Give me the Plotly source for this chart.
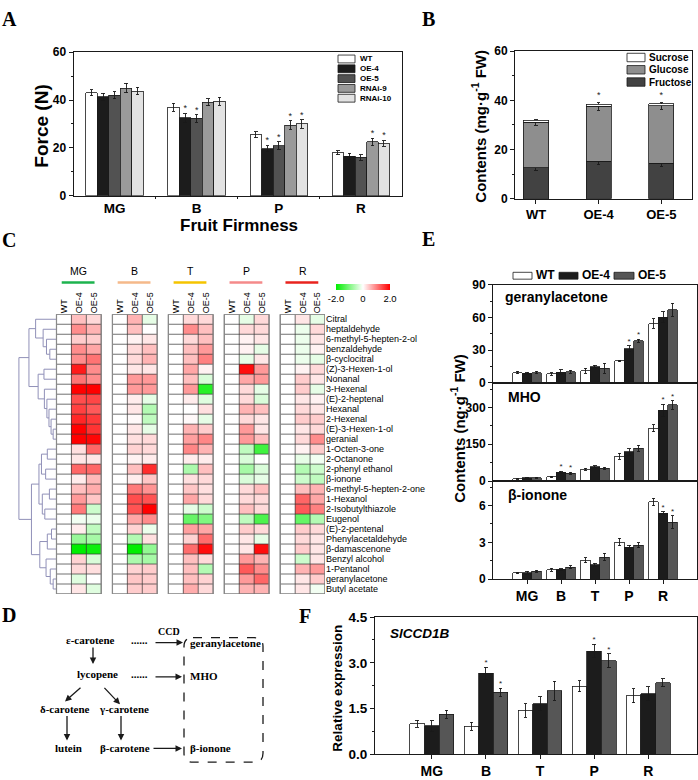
import plotly.graph_objects as go

W, H = 698, 780
def PX(px): return px / W
def PY(py): return 1 - py / H

FONT = 'Liberation Sans'
SERIF = 'Liberation Serif'
INK = '#1a1a1a'

# ================= DATA =================
# --- Panel A: fruit firmness (N)
firm_stages = ['MG', 'B', 'P', 'R']
firm_lines = ['WT', 'OE-4', 'OE-5', 'RNAi-9', 'RNAi-10']
firm_colors = ['#ffffff', '#1c1c1c', '#525252', '#9a9a9a', '#e2e2e2']
force_WT = [43.0, 37.0, 25.5, 18.0]
force_OE4 = [41.3, 32.5, 19.7, 16.5]
force_OE5 = [42.0, 32.3, 21.0, 16.0]
force_RNAi9 = [45.0, 39.0, 29.5, 22.5]
force_RNAi10 = [43.7, 39.5, 30.0, 21.8]
force_err_WT = [1.3, 1.6, 1.2, 0.8]
force_err_OE4 = [1.5, 1.8, 1.3, 1.3]
force_err_OE5 = [1.5, 1.5, 1.5, 1.2]
force_err_RNAi9 = [2.0, 1.5, 1.8, 1.6]
force_err_RNAi10 = [1.6, 1.6, 1.7, 1.2]
force_sig_WT = [0, 0, 0, 0]
force_sig_OE4 = [0, 1, 1, 0]
force_sig_OE5 = [0, 1, 1, 0]
force_sig_RNAi9 = [0, 0, 1, 1]
force_sig_RNAi10 = [0, 0, 1, 1]

# --- Panel B: sugar contents (mg/g FW)
sugar_lines = ['WT', 'OE-4', 'OE-5']
sugar_names = ['Sucrose', 'Glucose', 'Fructose']
sugar_colors = ['#ffffff', '#8e8e8e', '#424242']
fructose = [12.5, 15.3, 14.5]
fructose_err = [1.0, 1.4, 1.3]
glucose = [18.5, 22.2, 23.2]
glucose_err = [1.2, 1.5, 1.3]
sucrose = [1.0, 1.0, 0.9]
sugar_sig = [0, 1, 1]

# --- Panel C: heatmap (log2 fold change vs WT)
heat_stages = ['MG', 'B', 'T', 'P', 'R']
heat_stage_colors = ['#1db34e', '#f5b98a', '#f5c400', '#f48a8a', '#e8231e']
heat_cols = ['WT', 'OE-4', 'OE-5']
compounds = ['Citral', 'heptaldehyde', '6-methyl-5-hepten-2-ol', 'benzaldehyde', 'β-cyclocitral',
             '(Z)-3-Hexen-1-ol', 'Nonanal', '3-Hexenal', '(E)-2-heptenal', 'Hexanal', '2-Hexenal',
             '(E)-3-Hexen-1-ol', 'geranial', '1-Octen-3-one', '2-Octanone', '2-phenyl ethanol',
             'β-ionone', '6-methyl-5-hepten-2-one', '1-Hexanol', '2-Isobutylthiazole', 'Eugenol',
             '(E)-2-pentenal', 'Phenylacetaldehyde', 'β-damascenone', 'Benzyl alcohol', '1-Pentanol',
             'geranylacetone', 'Butyl acetate']
heat_WT = [0.0, 0.0, 0.0, 0.0, 0.0, 0.0, 0.0, 0.0, 0.0, 0.0, 0.0, 0.0, 0.0, 0.0,
           0.0, 0.0, 0.0, 0.0, 0.0, 0.0, 0.0, 0.0, 0.0, 0.0, 0.0, 0.0, 0.0, 0.0]
heat_MG_OE4 = [0.5, 0.9, 0.4, 0.9, 0.9, 1.8, 1.1, 2.0, 1.4, 1.5, 1.7, 2.0, 2.0, 0.25,
               0.2, 1.2, 0.15, 0.5, 0.8, 1.05, -0.1, 0.15, -0.8, -2.0, 0.35, 0.3, -0.25, 0.2]
heat_MG_OE5 = [0.3, 0.6, 0.4, 0.7, 1.1, 0.9, 0.9, 2.0, 1.45, 1.3, 1.55, 1.6, 1.95, 1.2,
               0.2, 1.2, 0.55, 0.65, 0.45, -0.4, -0.15, -0.5, -0.7, -1.9, -0.3, 0.25, 0.0, -0.25]
heat_B_OE4 = [0.6, 0.5, 0.1, 0.3, 0.3, 0.2, 0.8, 0.8, 0.15, 0.2, 0.05, 0.2, 0.25, 0.35,
              0.1, 0.5, 0.15, 1.05, 1.4, 1.35, 0.7, 0.35, -0.6, -2.0, -0.65, 0.35, 0.45, 0.4]
heat_B_OE5 = [-0.2, 0.0, 0.2, 0.5, 0.6, 0.2, 0.8, 0.8, -0.2, -0.6, -0.5, -0.2, 0.3, 0.3,
              0.15, 1.65, 0.45, 0.85, 1.35, 2.0, 0.9, -0.15, 0.25, -0.85, -0.7, 0.4, 0.4, 0.4]
heat_T_OE4 = [0.3, 0.9, 0.3, 0.5, 0.5, 0.7, 0.5, 0.8, 0.15, 0.0, 0.05, 0.6, 0.75, 0.95,
              0.15, -0.65, 0.25, 0.45, 0.7, -0.2, -1.2, 0.75, 0.35, 1.15, 0.5, 0.5, 0.5, 0.65]
heat_T_OE5 = [0.3, 0.5, 0.5, 0.8, 1.0, 0.1, -0.3, -1.7, -0.25, 0.25, -0.2, 0.4, 0.95, 0.6,
              0.15, 0.5, 0.3, 0.25, 0.3, -0.4, -1.0, 0.7, 1.15, 1.9, 0.3, -0.6, 0.35, 0.3]
heat_P_OE4 = [-0.2, 0.3, 0.1, 0.1, -0.2, 1.9, 0.7, 0.3, 0.3, 0.6, 0.3, 0.8, 0.8, -0.5,
              -0.3, -0.7, -0.3, 0.3, 0.3, 0.5, -0.5, 0.4, 0.2, 0.2, 0.8, 1.3, 0.8, 0.6]
heat_P_OE5 = [0.3, 0.3, 0.2, -0.2, 0.2, 0.8, 0.8, -0.2, -0.3, 0.5, 0.2, 0.2, 0.5, -1.5,
              0.0, -0.3, -0.2, 0.5, 0.3, 0.3, -1.4, 0.3, -0.2, 1.9, 0.6, 0.9, 1.2, 0.6]
heat_R_OE4 = [0.2, -0.15, -0.15, -0.15, -0.15, 0.1, 0.4, 0.4, 0.2, 0.3, 0.4, 0.2, 0.3, 0.1,
              -0.2, -0.6, -0.4, 0.5, 1.2, 1.3, -1.2, 0.4, 0.3, 0.4, -0.4, 0.6, 0.2, 0.2]
heat_R_OE5 = [-0.2, 0.3, 0.2, 0.1, -0.2, 0.3, 0.2, -0.2, 0.1, 0.2, 0.4, 0.3, 0.9, 0.4,
              -0.1, -0.4, -0.5, 0.6, 0.7, 1.0, -0.6, 0.3, 0.2, 0.2, 0.2, 0.8, 0.4, -0.1]
# hierarchical clustering of the rows: [left, right, linkage height]
dendro_tree = [
    [[0, [1, [2, [3, 4, 0.16], 0.24], 0.32], 0.5],
     [[5, 6, 0.3], [7, [8, [9, [10, [11, 12, 0.08], 0.13], 0.18], 0.23], 0.29], 0.44], 0.66],
    [[[[13, 14, 0.22], [15, 16, 0.26], 0.36], [[17, 18, 0.17], [19, 20, 0.28], 0.34], 0.42],
     [[[21, 22, 0.12], 23, 0.22], [24, [25, [26, 27, 0.08], 0.15], 0.25], 0.4], 0.6],
    0.9]

# --- Panel E: volatile contents (ng/g FW)
vol_stages = ['MG', 'B', 'T', 'P', 'R']
vol_lines = ['WT', 'OE-4', 'OE-5']
vol_colors = ['#ffffff', '#1c1c1c', '#565656']
geranyl_WT = [9.5, 8.2, 11.2, 20.2, 54.5]
geranyl_OE4 = [8.8, 10.0, 15.0, 31.5, 60.3]
geranyl_OE5 = [9.5, 10.2, 13.5, 38.8, 67.3]
geranyl_err_WT = [1.0, 1.0, 2.2, 0.6, 4.5]
geranyl_err_OE4 = [0.8, 2.0, 1.0, 2.5, 5.0]
geranyl_err_OE5 = [1.2, 1.5, 4.5, 1.5, 6.0]
geranyl_sig_WT = [0, 0, 0, 0, 0]
geranyl_sig_OE4 = [0, 0, 0, 1, 0]
geranyl_sig_OE5 = [0, 0, 0, 1, 0]
mho_WT = [10, 17, 48, 101, 215]
mho_OE4 = [14, 36, 58, 119, 289]
mho_OE5 = [14, 31, 52, 133, 310]
mho_err_WT = [2, 3, 5, 12, 15]
mho_err_OE4 = [2, 4, 4, 13, 25]
mho_err_OE5 = [2, 4, 4, 12, 18]
mho_sig_WT = [0, 0, 0, 0, 0]
mho_sig_OE4 = [0, 1, 0, 0, 1]
mho_sig_OE5 = [0, 1, 0, 0, 1]
ion_WT = [0.50, 0.75, 1.52, 3.02, 6.30]
ion_OE4 = [0.52, 0.80, 1.17, 2.58, 5.38]
ion_OE5 = [0.63, 0.95, 1.80, 2.75, 4.65]
ion_err_WT = [0.05, 0.12, 0.20, 0.30, 0.30]
ion_err_OE4 = [0.12, 0.06, 0.12, 0.20, 0.12]
ion_err_OE5 = [0.08, 0.12, 0.30, 0.20, 0.50]
ion_sig_WT = [0, 0, 0, 0, 0]
ion_sig_OE4 = [0, 0, 0, 0, 1]
ion_sig_OE5 = [0, 0, 0, 0, 1]

# --- Panel F: SlCCD1B relative expression
ccd_WT = [1.00, 0.92, 1.44, 2.23, 1.92]
ccd_OE4 = [0.93, 2.65, 1.66, 3.38, 1.99]
ccd_OE5 = [1.32, 2.03, 2.08, 3.06, 2.35]
ccd_err_WT = [0.12, 0.13, 0.22, 0.18, 0.23]
ccd_err_OE4 = [0.17, 0.20, 0.22, 0.22, 0.23]
ccd_err_OE5 = [0.13, 0.14, 0.31, 0.23, 0.12]
ccd_sig_WT = [0, 0, 0, 0, 0]
ccd_sig_OE4 = [0, 1, 0, 1, 0]
ccd_sig_OE5 = [0, 1, 0, 1, 0]

# --- Panel D: pathway text
path_nodes = ['ε-carotene', 'lycopene', 'δ-carotene', 'γ-carotene', 'lutein', 'β-carotene']
path_products = ['geranylacetone', 'MHO', 'β-ionone']

# ================= FIGURE =================
traces = []
annotations = []
shapes = []


def grouped_bars(xa, ya, vals_list, err_list, sig_list, colors, width, star=9):
    n = len(vals_list)
    for k in range(n):
        vals, errs, sigs = vals_list[k], err_list[k], sig_list[k]
        xs = [i + (k - (n - 1) / 2) * width for i in range(len(vals))]
        traces.append(go.Bar(x=xs, y=vals, width=width,
                             marker=dict(color=colors[k], line=dict(color=INK, width=0.8)),
                             error_y=dict(type='data', array=errs, color=INK, thickness=0.9, width=1.8),
                             xaxis=xa, yaxis=ya, showlegend=False, hoverinfo='skip'))
        sx = [x for x, s in zip(xs, sigs) if s]
        sy = [v + e for v, e, s in zip(vals, errs, sigs) if s]
        if sx:
            traces.append(go.Scatter(x=sx, y=sy, mode='text', text=['*'] * len(sx),
                                     textposition='top center',
                                     textfont=dict(size=star, color=INK, family=FONT),
                                     xaxis=xa, yaxis=ya, showlegend=False, hoverinfo='skip'))


# Panel A
grouped_bars('x', 'y',
             [force_WT, force_OE4, force_OE5, force_RNAi9, force_RNAi10],
             [force_err_WT, force_err_OE4, force_err_OE5, force_err_RNAi9, force_err_RNAi10],
             [force_sig_WT, force_sig_OE4, force_sig_OE5, force_sig_RNAi9, force_sig_RNAi10],
             firm_colors, 0.14, star=9)

# Panel B (stacked)
xb = list(range(len(sugar_lines)))
traces.append(go.Bar(x=xb, y=fructose, width=0.4, marker=dict(color=sugar_colors[2], line=dict(color=INK, width=0.8)),
                     error_y=dict(type='data', array=fructose_err, color=INK, thickness=0.9, width=1.8),
                     xaxis='x2', yaxis='y2', showlegend=False, hoverinfo='skip'))
traces.append(go.Bar(x=xb, y=glucose, width=0.4, marker=dict(color=sugar_colors[1], line=dict(color=INK, width=0.8)),
                     error_y=dict(type='data', array=glucose_err, color=INK, thickness=0.9, width=1.8),
                     xaxis='x2', yaxis='y2', showlegend=False, hoverinfo='skip'))
traces.append(go.Bar(x=xb, y=sucrose, width=0.4, marker=dict(color=sugar_colors[0], line=dict(color=INK, width=0.8)),
                     xaxis='x2', yaxis='y2', showlegend=False, hoverinfo='skip'))
sbx = [x for x, s in zip(xb, sugar_sig) if s]
sby = [f + g + s + ge for f, g, s, ge, sg in zip(fructose, glucose, sucrose, glucose_err, sugar_sig) if sg]
traces.append(go.Scatter(x=sbx, y=sby, mode='text', text=['*'] * len(sbx), textposition='top center',
                         textfont=dict(size=9, color=INK), xaxis='x2', yaxis='y2', showlegend=False,
                         hoverinfo='skip'))

# Panel C heatmap
STEP = 3.75
heat_data = {
    'MG': [heat_WT, heat_MG_OE4, heat_MG_OE5],
    'B': [heat_WT, heat_B_OE4, heat_B_OE5],
    'T': [heat_WT, heat_T_OE4, heat_T_OE5],
    'P': [heat_WT, heat_P_OE4, heat_P_OE5],
    'R': [heat_WT, heat_R_OE4, heat_R_OE5],
}
nrow = len(compounds)
colorscale = [[0, '#00ee00'], [0.5, '#ffffff'], [1, '#ff0000']]
col_tickvals, col_ticktext = [], []
gx, gy = [], []
for s, st in enumerate(heat_stages):
    base = s * STEP
    cols = heat_data[st]
    z = [[cols[c][r] for c in range(3)] for r in range(nrow)]
    xs = [base + c for c in range(3)]
    tr = go.Heatmap(z=z, x=xs, y=list(range(nrow)), colorscale=colorscale, zmin=-2, zmax=2,
                    xaxis='x3', yaxis='y3', hoverinfo='skip', showscale=(s == 0))
    if s == 0:
        tr.colorbar = dict(orientation='h', x=PX(336), xanchor='left', y=PY(282), yanchor='top',
                           len=54 / W, lenmode='fraction', thickness=6, thicknessmode='pixels',
                           tickvals=[-2, 0, 2], ticktext=['-2.0', '0', '2.0'], ticks='',
                           tickfont=dict(family=FONT, size=9.5, color='black'), outlinewidth=0,
                           ypad=0, xpad=0)
    traces.append(tr)
    col_tickvals += xs
    col_ticktext += heat_cols
    for c in range(4):
        gx += [base - 0.5 + c, base - 0.5 + c, None]
        gy += [-0.5, nrow - 0.5, None]
    for r in range(nrow + 1):
        gx += [base - 0.5, base + 2.5, None]
        gy += [r - 0.5, r - 0.5, None]
    annotations.append(dict(x=base + 1, y=PY(269), xref='x3', yref='paper', text=st, showarrow=False,
                            font=dict(family=FONT, size=10.5, color='black')))
    shapes.append(dict(type='line', xref='x3', yref='paper', x0=base - 0.15, x1=base + 2.05,
                       y0=PY(281), y1=PY(281), line=dict(color=heat_stage_colors[s], width=2.5)))
    shapes.append(dict(type='rect', xref='x3', yref='y3', x0=base - 0.5, x1=base + 2.5, y0=-0.5,
                       y1=nrow - 0.5, line=dict(color='#8a8a8a', width=1.2)))
traces.append(go.Scatter(x=gx, y=gy, mode='lines', line=dict(color='#333333', width=0.7),
                         xaxis='x3', yaxis='y3', showlegend=False, hoverinfo='skip'))

DW = 2.8
def hx(h): return -0.5 - h * DW
dx, dy = [], []
def build(node):
    if isinstance(node, int):
        return float(node), 0.0
    l, r, h = node
    yl, hl = build(l)
    yr, hr = build(r)
    dx.extend([hx(hl), hx(h), hx(h), hx(hr), None])
    dy.extend([yl, yl, yr, yr, None])
    return (yl + yr) / 2, h
build(dendro_tree)
traces.append(go.Scatter(x=dx, y=dy, mode='lines', line=dict(color='#9090b8', width=1),
                         xaxis='x3', yaxis='y3', showlegend=False, hoverinfo='skip'))

# Panel E
grouped_bars('x4', 'y4', [geranyl_WT, geranyl_OE4, geranyl_OE5],
             [geranyl_err_WT, geranyl_err_OE4, geranyl_err_OE5],
             [geranyl_sig_WT, geranyl_sig_OE4, geranyl_sig_OE5], vol_colors, 0.28, star=8)
grouped_bars('x5', 'y5', [mho_WT, mho_OE4, mho_OE5], [mho_err_WT, mho_err_OE4, mho_err_OE5],
             [mho_sig_WT, mho_sig_OE4, mho_sig_OE5], vol_colors, 0.28, star=8)
grouped_bars('x6', 'y6', [ion_WT, ion_OE4, ion_OE5], [ion_err_WT, ion_err_OE4, ion_err_OE5],
             [ion_sig_WT, ion_sig_OE4, ion_sig_OE5], vol_colors, 0.28, star=8)

# Panel F
grouped_bars('x7', 'y7', [ccd_WT, ccd_OE4, ccd_OE5], [ccd_err_WT, ccd_err_OE4, ccd_err_OE5],
             [ccd_sig_WT, ccd_sig_OE4, ccd_sig_OE5], vol_colors, 0.27, star=8)

fig = go.Figure(traces)


def axis(**kw):
    base = dict(showline=True, linecolor=INK, linewidth=1, mirror=True, ticks='outside', ticklen=4,
                tickwidth=1, tickcolor=INK, showgrid=False, zeroline=False, fixedrange=True,
                tickfont=dict(family=FONT, size=12, color='black', weight='bold'))
    base.update(kw)
    return base

def minor(vals):
    return dict(tickvals=vals, ticks='outside', ticklen=2, tickcolor=INK, tickwidth=1)

ppu = (325 - 56.5) / 18.0
layout = dict(
    width=W, height=H, margin=dict(l=0, r=0, t=0, b=0), paper_bgcolor='white', plot_bgcolor='white',
    barmode='stack', showlegend=False, font=dict(family=FONT, color='black'),
    xaxis=axis(domain=[PX(73.5), PX(402)], range=[-0.5, 3.5], anchor='y', tickvals=[0, 1, 2, 3],
               ticktext=firm_stages, tickfont=dict(family=FONT, size=13.5, weight='bold', color='black'),
               minor=minor([0.5, 1.5, 2.5]), ticklen=0),
    yaxis=axis(domain=[PY(192.5), PY(46)], range=[0, 60], anchor='x', tickvals=[0, 20, 40, 60],
               minor=minor([10, 30, 50])),
    xaxis2=axis(domain=[PX(515), PX(692)], range=[-0.335, 2.49], anchor='y2', tickvals=[0, 1, 2],
                ticktext=sugar_lines, tickfont=dict(family=FONT, size=13, weight='bold', color='black')),
    yaxis2=axis(domain=[PY(195.5), PY(45)], range=[0, 60], anchor='x2', tickvals=[0, 20, 40, 60],
                minor=minor([10, 30, 50])),
    xaxis3=dict(domain=[PX(56.5 - (DW + 0.05) * ppu), PX(325)], range=[-0.5 - DW - 0.05, 4 * STEP + 2.5],
                anchor='y3', side='top', showline=False, ticks='', showgrid=False, zeroline=False,
                tickvals=col_tickvals, ticktext=col_ticktext, tickangle=-90, fixedrange=True,
                tickfont=dict(family=FONT, size=9, color='black')),
    yaxis3=dict(domain=[PY(598.5), PY(313.3)], range=[nrow - 0.5, -0.5], anchor='x3', side='right',
                showline=False, ticks='', showgrid=False, zeroline=False, tickvals=list(range(nrow)),
                ticktext=compounds, fixedrange=True, tickfont=dict(family=FONT, size=9, color='black')),
    xaxis4=axis(domain=[PX(493), PX(697)], range=[-1, 5], anchor='y4', showticklabels=False, ticks=''),
    yaxis4=axis(domain=[PY(383.3), PY(283.3)], range=[0, 90], anchor='x4', tickvals=[0, 30, 60, 90],
                minor=minor([15, 45, 75])),
    xaxis5=axis(domain=[PX(493), PX(697)], range=[-1, 5], anchor='y5', showticklabels=False, ticks=''),
    yaxis5=axis(domain=[PY(483.3), PY(383.3)], range=[0, 400], anchor='x5', tickvals=[0, 150, 300],
                minor=minor([75, 225, 375])),
    xaxis6=axis(domain=[PX(493), PX(697)], range=[-1, 5], anchor='y6', tickvals=[0, 1, 2, 3, 4],
                ticktext=vol_stages, tickfont=dict(family=FONT, size=14, weight='bold', color='black')),
    yaxis6=axis(domain=[PY(583.3), PY(483.3)], range=[0, 8], anchor='x6', tickvals=[0, 3, 6],
                minor=minor([1.5, 4.5, 7.5])),
    xaxis7=axis(domain=[PX(375), PX(697)], range=[-1.05, 4.9], anchor='y7', tickvals=[0, 1, 2, 3, 4],
                ticktext=vol_stages, tickfont=dict(family=FONT, size=14, weight='bold', color='black')),
    yaxis7=axis(domain=[PY(762), PY(622)], range=[0, 4.5], anchor='x7', tickvals=[0, 1.5, 3, 4.5],
                ticktext=['0.0', '1.5', '3.0', '4.5'], minor=minor([0.75, 2.25, 3.75]),
                tickfont=dict(family=FONT, size=13.5, weight='bold', color='black')),
)

def ann(x, y, text, size=12, bold=True, family=FONT, angle=0, xanchor='center', italic=False):
    annotations.append(dict(x=PX(x), y=PY(y), xref='paper', yref='paper', text=text, showarrow=False,
                            xanchor=xanchor, yanchor='middle', textangle=angle,
                            font=dict(family=family, size=size, color='black',
                                      weight='bold' if bold else 'normal',
                                      style='italic' if italic else 'normal')))

# panel letters
for letter, (lx, ly) in zip('ABCDEF', [(9, 12), (428, 12), (9, 238), (9, 620), (428, 237), (305, 621)]):
    ann(lx, ly, letter, size=20, family=SERIF)

# axis titles
ann(239, 223, 'Fruit Firmness', size=17)
ann(42, 122, 'Force (N)', size=19, angle=-90)
ann(479, 122, 'Contents (mg·g<sup>-1</sup> FW)', size=15, angle=-90)
ann(458, 430, 'Contents (ng·g<sup>-1</sup> FW)', size=15, angle=-90)
ann(338, 695, 'Relative expression', size=13.5, angle=-90)

# E panel names and F gene name
ann(503, 296, 'geranylacetone', size=14, xanchor='left')
ann(506, 398, 'MHO', size=14, xanchor='left')
ann(506, 498, 'β-ionone', size=14, xanchor='left')
ann(388, 639, 'SlCCD1B', size=13.5, xanchor='left', italic=True)

# Legend A
leg_a_y = [53, 63, 73, 83, 93]
for name, col, yy in zip(firm_lines, firm_colors, leg_a_y):
    shapes.append(dict(type='rect', xref='paper', yref='paper', x0=PX(338), x1=PX(355),
                       y0=PY(yy + 4), y1=PY(yy - 4), fillcolor=col, line=dict(color=INK, width=0.8)))
    ann(358, yy, name, size=8, xanchor='left')

# Legend B
leg_b_y = [51.5, 64, 76.5]
for name, col, yy in zip(sugar_names, sugar_colors, leg_b_y):
    shapes.append(dict(type='rect', xref='paper', yref='paper', x0=PX(627), x1=PX(645),
                       y0=PY(yy + 4.3), y1=PY(yy - 4.3), fillcolor=col, line=dict(color=INK, width=0.8)))
    ann(647, yy, name, size=10, xanchor='left')

# Legend E
leg_e_box = [(513, 532), (559, 578), (614, 634)]
leg_e_txt = [534, 580, 636]
for name, col, (b0, b1), tx in zip(vol_lines, vol_colors, leg_e_box, leg_e_txt):
    shapes.append(dict(type='rect', xref='paper', yref='paper', x0=PX(b0), x1=PX(b1),
                       y0=PY(277.5), y1=PY(270.5), fillcolor=col, line=dict(color=INK, width=0.8)))
    ann(tx, 273.5, name, size=12, xanchor='left')

# Panel D pathway
node_pos = [(90, 645), (97, 680), (65, 716), (124, 716), (68, 756), (125, 756)]
for name, (nx, ny) in zip(path_nodes, node_pos):
    ann(nx, ny, name, size=11, family=SERIF)
prod_pos = [(188, 648), (188, 682), (188, 756)]
for name, (nx, ny) in zip(path_products, prod_pos):
    ann(nx, ny, name, size=11, family=SERIF, xanchor='left')
ann(139, 645, '......', size=11, family=SERIF)
ann(139, 680, '......', size=11, family=SERIF)
ann(169, 637, 'CCD', size=10, family=SERIF)

arrows = [((154, 648), (183, 648)), ((93, 652), (93, 670)), ((154, 683), (182, 683)),
          ((82, 693), (65, 708)), ((103, 693), (120, 711)), ((67, 722), (67, 748)),
          ((121, 722), (121, 748)), ((152, 756), (182, 756))]
for (tx0, ty0), (hx0, hy0) in arrows:
    annotations.append(dict(x=PX(hx0), y=PY(hy0), xref='paper', yref='paper', ax=tx0 - hx0, ay=ty0 - hy0,
                            axref='pixel', ayref='pixel', text='', showarrow=True, arrowhead=2,
                            arrowsize=1, arrowwidth=1.3, arrowcolor=INK))

bx0, bx1, by0, by1 = PX(184), PX(263), PY(643), PY(770)
rx, ry = 9 / W, 9 / H
box_path = (f'M {bx0 + rx},{by0} L {bx1 - rx},{by0} Q {bx1},{by0} {bx1},{by0 - ry} '
            f'L {bx1},{by1 + ry} Q {bx1},{by1} {bx1 - rx},{by1} L {bx0 + rx},{by1} '
            f'Q {bx0},{by1} {bx0},{by1 + ry} L {bx0},{by0 - ry} Q {bx0},{by0} {bx0 + rx},{by0} Z')
shapes.append(dict(type='path', xref='paper', yref='paper', path=box_path,
                   line=dict(color=INK, width=1.3, dash='dash')))

layout['annotations'] = annotations
layout['shapes'] = shapes
fig.update_layout(**layout)
fig.write_html('out.html', config={'displayModeBar': False, 'staticPlot': True},
               post_script="document.body.style.margin='0';document.body.style.overflow='hidden';")
